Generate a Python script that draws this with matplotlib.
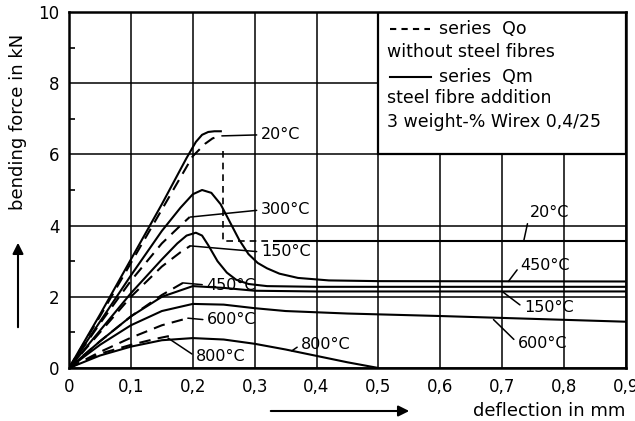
import numpy as np
import matplotlib.pyplot as plt
from matplotlib.patches import Rectangle, FancyArrowPatch

# ---- data (deflection in mm, force in kN) ----
x_ticks = [0, 0.1, 0.2, 0.3, 0.4, 0.5, 0.6, 0.7, 0.8, 0.9]
x_ticklabels = ["0", "0,1", "0,2", "0,3", "0,4", "0,5", "0,6", "0,7", "0,8", "0,9"]
y_ticks = [0, 2, 4, 6, 8, 10]
y_minor = [1, 3, 5, 7, 9]

# series Qm (with steel fibres), solid
qm20_x = [0, 0.05, 0.1, 0.15, 0.19, 0.205, 0.215, 0.225, 0.235, 0.247]
qm20_y = [0, 1.5, 3.05, 4.6, 5.9, 6.35, 6.55, 6.63, 6.65, 6.65]
qm20_drop_x = [0.249, 0.249, 0.33]
qm20_drop_y = [6.1, 3.58, 3.58]
qm20_rest_x = [0.33, 0.9]
qm20_rest_y = [3.58, 3.58]

qm300_x = [0, 0.05, 0.1, 0.15, 0.18, 0.2, 0.215, 0.23, 0.245, 0.26, 0.275, 0.29,
           0.305, 0.32, 0.34, 0.37, 0.42, 0.5, 0.9]
qm300_y = [0, 1.3, 2.6, 3.85, 4.5, 4.88, 5.0, 4.92, 4.6, 4.1, 3.6, 3.2,
           2.95, 2.8, 2.65, 2.53, 2.46, 2.44, 2.43]

qm150_x = [0, 0.05, 0.1, 0.15, 0.175, 0.19, 0.205, 0.215, 0.225, 0.24, 0.255,
           0.27, 0.29, 0.32, 0.4, 0.9]
qm150_y = [0, 1.05, 2.1, 3.05, 3.5, 3.72, 3.8, 3.72, 3.45, 3.0, 2.68,
           2.48, 2.36, 2.3, 2.28, 2.28]

qm450_x = [0, 0.05, 0.1, 0.15, 0.2, 0.25, 0.3, 0.4, 0.9]
qm450_y = [0, 0.75, 1.45, 2.0, 2.3, 2.25, 2.17, 2.15, 2.15]

qm600_x = [0, 0.05, 0.1, 0.15, 0.2, 0.25, 0.3, 0.35, 0.45, 0.6, 0.75, 0.9]
qm600_y = [0, 0.65, 1.2, 1.6, 1.8, 1.78, 1.68, 1.6, 1.53, 1.46, 1.38, 1.3]

qm800_x = [0, 0.05, 0.1, 0.15, 0.2, 0.25, 0.3, 0.35, 0.4, 0.45, 0.5]
qm800_y = [0, 0.35, 0.6, 0.78, 0.84, 0.8, 0.68, 0.52, 0.34, 0.16, 0.0]

# series Qo (without steel fibres), dashed
qo20_x = [0, 0.05, 0.1, 0.15, 0.2, 0.22, 0.232, 0.241]
qo20_y = [0, 1.45, 2.95, 4.45, 5.95, 6.3, 6.45, 6.5]
qo300_x = [0, 0.05, 0.1, 0.15, 0.18, 0.195]
qo300_y = [0, 1.25, 2.45, 3.5, 4.0, 4.24]
qo150_x = [0, 0.05, 0.1, 0.15, 0.18, 0.196]
qo150_y = [0, 1.0, 2.0, 2.85, 3.25, 3.43]
qo450_x = [0, 0.05, 0.1, 0.15, 0.184]
qo450_y = [0, 0.75, 1.45, 2.05, 2.39]
qo600_x = [0, 0.05, 0.1, 0.15, 0.192]
qo600_y = [0, 0.45, 0.85, 1.2, 1.4]
qo800_x = [0, 0.05, 0.1, 0.14, 0.168]
qo800_y = [0, 0.4, 0.65, 0.82, 0.92]

# curve labels: text, point on curve, text position
labels = [
    ("20°C", (0.247, 6.52), (0.31, 6.55)),
    ("300°C", (0.196, 4.24), (0.31, 4.44)),
    ("150°C", (0.196, 3.43), (0.31, 3.26)),
    ("450°C", (0.184, 2.39), (0.222, 2.33)),
    ("600°C", (0.192, 1.40), (0.223, 1.35)),
    ("800°C", (0.16, 0.84), (0.205, 0.32)),
    ("800°C", (0.36, 0.48), (0.375, 0.66)),
    ("20°C", (0.735, 3.58), (0.745, 4.38)),
    ("450°C", (0.71, 2.43), (0.73, 2.89)),
    ("150°C", (0.70, 2.15), (0.735, 1.69)),
    ("600°C", (0.686, 1.36), (0.725, 0.70)),
]

fig = plt.figure(figsize=(6.35, 4.21), dpi=100)
ax = fig.add_axes([0.1087, 0.1259, 0.877, 0.8456])

lw = 1.5
dash = (0, (5.5, 3.5))
for xs, ys in [(qm20_x, qm20_y), (qm20_rest_x, qm20_rest_y), (qm300_x, qm300_y),
               (qm150_x, qm150_y), (qm450_x, qm450_y), (qm600_x, qm600_y),
               (qm800_x, qm800_y)]:
    ax.plot(xs, ys, color="black", lw=lw, solid_capstyle="butt")
ax.plot(qm20_drop_x, qm20_drop_y, color="black", lw=1.2, linestyle=(0, (4, 3)))
for xs, ys in [(qo20_x, qo20_y), (qo300_x, qo300_y), (qo150_x, qo150_y),
               (qo450_x, qo450_y), (qo600_x, qo600_y), (qo800_x, qo800_y)]:
    ax.plot(xs, ys, color="black", lw=lw, linestyle=dash)

for txt, xy, xyt in labels:
    ax.annotate(txt, xy=xy, xytext=xyt, fontsize=11.5, va="center", ha="left",
                arrowprops=dict(arrowstyle="-", lw=1.1, color="black",
                                relpos=(0, 0.5), shrinkA=1, shrinkB=0))

# legend box
ax.add_patch(Rectangle((0.5, 6), 0.4, 4, facecolor="white", edgecolor="black",
                       lw=1.6, zorder=2))
ax.plot([0.519, 0.583], [9.52, 9.52], color="black", lw=lw, linestyle=(0, (3, 2.5)), zorder=3)
ax.text(0.598, 9.52, "series  Qo", fontsize=12.5, va="center", zorder=3)
ax.text(0.514, 8.88, "without steel fibres", fontsize=12.5, va="center", zorder=3)
ax.plot([0.519, 0.585], [8.17, 8.17], color="black", lw=lw, zorder=3)
ax.text(0.598, 8.17, "series  Qm", fontsize=12.5, va="center", zorder=3)
ax.text(0.514, 7.58, "steel fibre addition", fontsize=12.5, va="center", zorder=3)
ax.text(0.514, 6.91, "3 weight-% Wirex 0,4/25", fontsize=12.5, va="center", zorder=3)

ax.set_xlim(0, 0.9)
ax.set_ylim(0, 10)
ax.set_xticks(x_ticks)
ax.set_xticklabels(x_ticklabels)
ax.set_yticks(y_ticks)
ax.set_yticks(y_minor, minor=True)
ax.tick_params(which="major", length=0, labelsize=12, pad=7)
ax.tick_params(which="minor", direction="in", length=4, width=1.2)
ax.grid(True, color="black", lw=1.1)
ax.set_axisbelow(True)
for s in ax.spines.values():
    s.set_linewidth(1.8)

# axis titles with arrows
fig.text(18 / 635, 1 - 122 / 421, "bending force in kN", rotation=90,
         fontsize=13, ha="center", va="center")
fig.text(625 / 635, 1 - 411 / 421, "deflection in mm", fontsize=13,
         ha="right", va="center")
fig.patches.append(FancyArrowPatch(
    (18 / 635, 1 - 330 / 421), (18 / 635, 1 - 240 / 421), transform=fig.transFigure,
    arrowstyle="-|>", mutation_scale=16, lw=1.5, color="black"))
fig.patches.append(FancyArrowPatch(
    (268 / 635, 1 - 411 / 421), (412 / 635, 1 - 411 / 421), transform=fig.transFigure,
    arrowstyle="-|>", mutation_scale=16, lw=1.5, color="black"))

fig.savefig("out.png", dpi=100)
